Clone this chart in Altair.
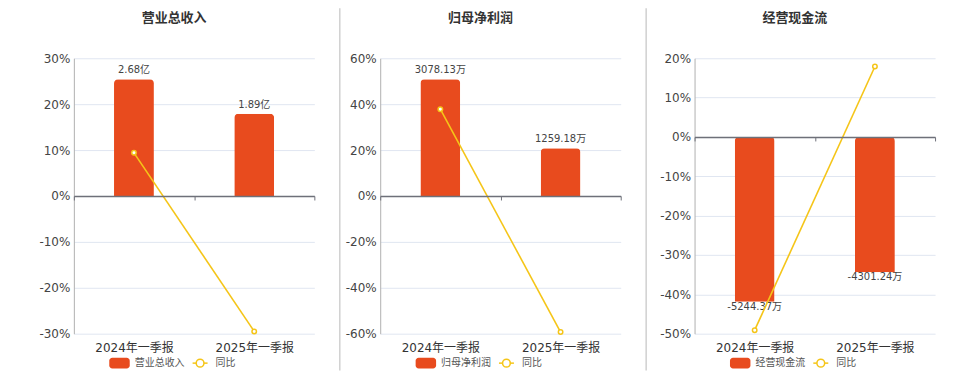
import altair as alt
import pandas as pd

FONT = "DejaVu Sans, Noto Sans CJK SC, sans-serif"
CJK = "Noto Sans CJK SC, DejaVu Sans, sans-serif"
RED = "#E84B1E"
YEL = "#F5C518"

cats = ["2024年一季报", "2025年一季报"]
titles = ["营业总收入", "归母净利润", "经营现金流"]
series_names = ["营业总收入", "归母净利润", "经营现金流"]
line_name = "同比"
bar_values = [[2.68, 1.89], [3078.13, 1259.18], [-5244.37, -4301.24]]
bar_labels = [["2.68亿", "1.89亿"], ["3078.13万", "1259.18万"], ["-5244.37万", "-4301.24万"]]
yoy_values = [[9.4, -29.5], [37.8, -59.3], [-49.1, 17.9]]
y_domains = [[-30, 30], [-60, 60], [-50, 20]]
y_ticks = [[-30, -20, -10, 0, 10, 20, 30],
           [-60, -40, -20, 0, 20, 40, 60],
           [-50, -40, -30, -20, -10, 0, 10, 20]]
bar_domains = [[-3.165, 3.165], [-3628, 3628], [-6258, 2504]]

W, H = 241, 276


def panel(i):
    df = pd.DataFrame({"cat": cats, "bar": bar_values[i],
                       "label": bar_labels[i], "yoy": yoy_values[i]})
    lo, hi = y_domains[i]
    zero_px = H * hi / (hi - lo)
    off = H - zero_px
    base = alt.Chart(df)

    x_axis = alt.Axis(orient="bottom", offset=-off, title=None,
                      domainColor="#6E7079", domainWidth=1.5,
                      ticks=True, tickBand="extent", tickColor="#6E7079",
                      tickSize=4, tickWidth=1,
                      labelPadding=281 - zero_px, labelAngle=0,
                      labelFontSize=12, labelColor="#333",
                      labelFont=FONT, grid=False, zindex=1)
    x_main = alt.X("cat:N", sort=cats,
                   scale=alt.Scale(paddingInner=0, paddingOuter=0), axis=x_axis)

    bars = base.mark_bar(size=40, color=RED, cornerRadiusEnd=4).encode(
        x=x_main,
        y=alt.Y("bar:Q", scale=alt.Scale(domain=bar_domains[i], nice=False), axis=None),
    )
    txt_pos = base.transform_filter("datum.bar >= 0").mark_text(
        baseline="bottom", dy=-4, fontSize=10, color="#444", font=FONT
    ).encode(x=x_main, y=alt.Y("bar:Q", axis=None), text="label:N")
    txt_neg = base.transform_filter("datum.bar < 0").mark_text(
        baseline="top", dy=0, fontSize=10, color="#444", font=FONT
    ).encode(x=x_main, y=alt.Y("bar:Q", axis=None), text="label:N")
    bar_layer = alt.layer(bars, txt_pos, txt_neg)

    line = base.mark_line(
        color=YEL, strokeWidth=1.6,
        point=alt.OverlayMarkDef(shape="circle", filled=True, fill="white",
                                 stroke=YEL, strokeWidth=1.5, size=20, opacity=1),
    ).encode(
        x=x_main,
        y=alt.Y("yoy:Q", scale=alt.Scale(domain=y_domains[i], nice=False, zero=False),
                axis=alt.Axis(orient="left", values=y_ticks[i], title=None,
                              labelExpr="datum.value + '%'",
                              grid=True, gridColor="#E0E6F1", gridWidth=1,
                              domain=True, domainColor="#b0b0b0", domainWidth=1,
                              ticks=False, labelPadding=4, labelFontSize=12,
                              labelColor="#444", labelFont=FONT)),
    )

    leg_df = pd.DataFrame({"n": [series_names[i]], "m": [line_name], "t": [titles[i]]})
    leg = alt.Chart(leg_df)
    ly = 305.5
    title_txt = leg.mark_text(align="center", baseline="middle", fontSize=13,
                              fontWeight="bold", color="#333", font=CJK).encode(
        x=alt.value(W / 2 - 20), y=alt.value(-40.5), text="t:N")
    leg_rect = leg.mark_rect(color=RED, cornerRadius=3).encode(
        x=alt.value(35.5), x2=alt.value(56), y=alt.value(ly - 5.3), y2=alt.value(ly + 5.3))
    leg_t1 = leg.mark_text(align="left", baseline="middle", fontSize=10,
                           color="#555", font=CJK).encode(
        x=alt.value(61), y=alt.value(ly), text="n:N")
    leg_line = leg.mark_rule(color=YEL, strokeWidth=1.5).encode(
        x=alt.value(119), x2=alt.value(134), y=alt.value(ly))
    leg_pt = leg.mark_point(shape="circle", filled=True, fill="white", stroke=YEL,
                            strokeWidth=1.5, size=60, opacity=1).encode(
        x=alt.value(126.5), y=alt.value(ly))
    leg_t2 = leg.mark_text(align="left", baseline="middle", fontSize=10,
                           color="#555", font=CJK).encode(
        x=alt.value(142), y=alt.value(ly), text="m:N")

    layers = [bar_layer, line, title_txt, leg_rect, leg_t1, leg_line, leg_pt, leg_t2]
    if i > 0:
        sep_x = -40.5 if i == 1 else -48.5
        sep = leg.mark_rule(color="#d0d0d0", strokeWidth=1.5).encode(
            x=alt.value(sep_x), y=alt.value(-50), y2=alt.value(313))
        layers.append(sep)

    return alt.layer(*layers).resolve_scale(y="independent").properties(
        width=W, height=H)


chart = alt.hconcat(panel(0), panel(1), panel(2), spacing=23).properties(
    padding={"left": 38, "top": 7, "right": 24, "bottom": 0}
).configure_view(stroke=None)

chart.save("out.html", embed_options={"renderer": "svg", "actions": False})
